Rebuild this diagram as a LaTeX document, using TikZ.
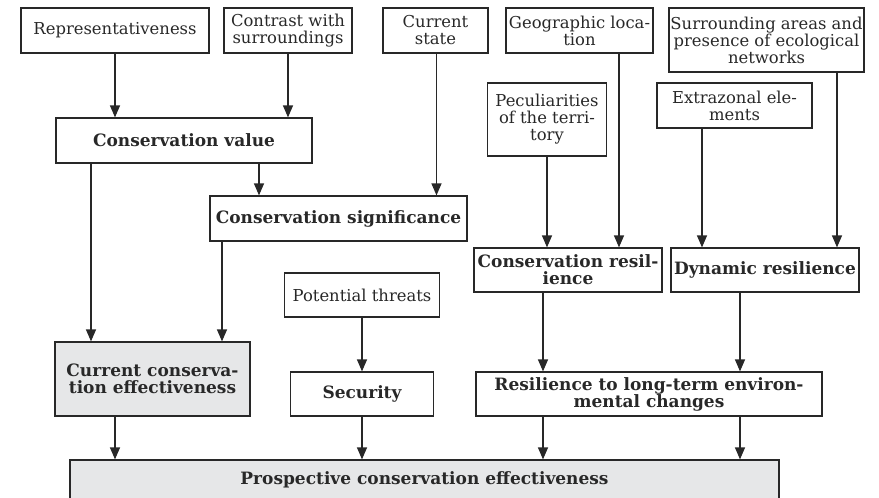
\documentclass[tikz,border=0pt]{standalone}
\usepackage{fontspec}
\setmainfont{DejaVu Serif}
\usetikzlibrary{arrows.meta}
\definecolor{boxgray}{RGB}{230,231,232}
\definecolor{ink}{RGB}{40,40,40}

\begin{document}
\begin{tikzpicture}[x=1pt, y=-1pt,
    box/.style={draw=ink, line width=1.2pt, rectangle, align=center, inner sep=0pt, text=ink, font=\fontsize{16.4}{17}\selectfont},
    boldbox/.style={box, font=\fontsize{17}{17}\selectfont\bfseries},
    greybox/.style={fill=boxgray},
    arr/.style={-{Triangle[length=12pt,width=10pt]}, line width=1.2pt, draw=ink}]
      \useasboundingbox (0, 0) rectangle (879, 498);
      \draw (115, 30.5) node [box, minimum width=188pt, minimum height=45pt] (rep) {Representativeness};
      \draw (288, 30.5) node [box, minimum width=128pt, minimum height=45pt] (con) {Contrast with\\surroundings};
      \draw (435.5, 30.5) node [box, minimum width=105pt, minimum height=45pt] (cur) {Current\\state};
      \draw (579.5, 30.5) node [box, minimum width=147pt, minimum height=45pt] (geo) {Geographic loca-\\tion};
      \draw (766.5, 40) node [box, minimum width=195pt, minimum height=64pt] (sur) {Surrounding areas and\\presence of ecological\\networks};
      \draw (547, 119.5) node [box, minimum width=119pt, minimum height=73pt] (pec) {Peculiarities\\of the terri-\\tory};
      \draw (734.5, 105.5) node [box, minimum width=155pt, minimum height=45pt] (ext) {Extrazonal ele-\\ments};
      \draw (184, 140.5) node [boldbox, minimum width=256pt, minimum height=45pt] (val) {Conservation value};
      \draw (338.5, 218.5) node [boldbox, minimum width=257pt, minimum height=45pt] (sig) {Conservation significance};
      \draw (568, 270) node [boldbox, minimum width=188pt, minimum height=44pt] (cres) {Conservation resil-\\ience};
      \draw (765, 270) node [boldbox, minimum width=188pt, minimum height=44pt] (dres) {Dynamic resilience};
      \draw (362, 295) node [box, minimum width=155pt, minimum height=44pt] (thr) {Potential threats};
      \draw (362, 394) node [boldbox, minimum width=143pt, minimum height=44pt] (sec) {Security};
      \draw (152.5, 379) node [boldbox, greybox, minimum width=195pt, minimum height=74pt] (cce) {Current conserva-\\tion effectiveness};
      \draw (649, 394) node [boldbox, minimum width=346pt, minimum height=44pt] (res) {Resilience to long-term environ-\\mental changes};
      \draw (424.5, 480) node [boldbox, greybox, minimum width=709pt, minimum height=40pt] (pce) {Prospective conservation effectiveness};
      \draw[arr] (rep.south) -- (rep.south |- val.north);
      \draw[arr] (con.south) -- (con.south |- val.north);
      \draw[arr] ([xshift=75pt]val.south) -- ([xshift=75pt]val.south |- sig.north);
      \draw[arr] ([xshift=1pt]cur.south) -- ([xshift=1pt]cur.south |- sig.north);
      \draw[arr] ([xshift=-93pt]val.south) -- ([xshift=-93pt]val.south |- cce.north);
      \draw[arr] ([xshift=-116.5pt]sig.south) -- ([xshift=-116.5pt]sig.south |- cce.north);
      \draw[arr] (pec.south) -- (pec.south |- cres.north);
      \draw[arr] ([xshift=39.5pt]geo.south) -- ([xshift=39.5pt]geo.south |- cres.north);
      \draw[arr] ([xshift=-32.5pt]ext.south) -- ([xshift=-32.5pt]ext.south |- dres.north);
      \draw[arr] ([xshift=70.5pt]sur.south) -- ([xshift=70.5pt]sur.south |- dres.north);
      \draw[arr] (thr.south) -- (sec.north);
      \draw[arr] ([xshift=-25pt]cres.south) -- ([xshift=-25pt]cres.south |- res.north);
      \draw[arr] ([xshift=-25pt]dres.south) -- ([xshift=-25pt]dres.south |- res.north);
      \draw[arr] ([xshift=-37.5pt]cce.south) -- ([xshift=-37.5pt]cce.south |- pce.north);
      \draw[arr] (sec.south) -- (sec.south |- pce.north);
      \draw[arr] ([xshift=-106pt]res.south) -- ([xshift=-106pt]res.south |- pce.north);
      \draw[arr] ([xshift=91pt]res.south) -- ([xshift=91pt]res.south |- pce.north);
    \end{tikzpicture}
\end{document}
